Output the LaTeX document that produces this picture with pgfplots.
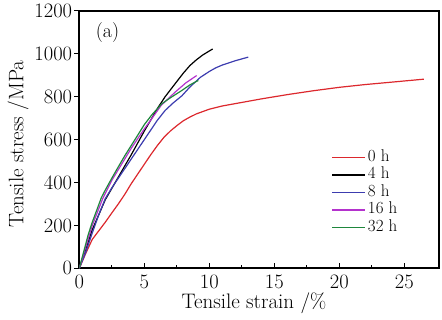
\documentclass[border=0pt]{standalone}
\usepackage{fontspec}
\usepackage{pgfplots}
\pgfplotsset{compat=1.18}
\definecolor{cRed}{RGB}{220,40,45}
\definecolor{cBlue}{RGB}{60,60,175}
\definecolor{cMag}{RGB}{180,50,205}
\definecolor{cGreen}{RGB}{30,135,60}
\begin{document}
\begin{tikzpicture}
\begin{axis}[
  scale only axis, width=359.7pt, height=257.3pt,
  xmin=0, xmax=27.67, ymin=0, ymax=1200,
  xtick={0,5,...,25}, ytick={0,200,...,1200},
  minor x tick num=1,
  xtick pos=bottom, ytick pos=left,
  tick align=inside, major tick length=5pt, minor tick length=3pt,
  y tick style={xshift=-5pt},
  every tick/.style={black, line width=1pt},
  axis line style={line width=1.6pt},
  /pgf/number format/assume math mode=true,
  /pgf/number format/1000 sep={},
  ticklabel style={font=\fontsize{20.5}{20.5}\selectfont},
  yticklabel style={inner sep=0pt, xshift=-7pt},
  xticklabel style={inner sep=0pt, yshift=-6pt},
  xlabel={Tensile strain /\%}, ylabel={Tensile stress /MPa},
  label style={font=\fontsize{21}{21}\selectfont},
  xlabel style={at={(axis description cs:0.4857,-0.137)}, anchor=center},
  ylabel style={at={(axis description cs:-0.1704,0.483)}, anchor=center},
  legend style={at={(axis cs:19.4,552)}, anchor=north west, draw=none, fill=none,
    font=\fontsize{17}{17}\selectfont, inner sep=0pt, row sep=2.5pt, column sep=2pt,
    nodes={inner sep=0pt, text height=11pt, text depth=4pt}},
  legend cell align=left,
  legend image code/.code={\draw[#1, line width=1.3pt] (0pt,0pt) -- (33pt,0pt);},
]
\addplot[cRed, line width=1.2pt] coordinates {(0,0)(0.5,70)(1,135)(1.5,175)(2,215)(2.5,258)(3,300)(3.5,345)(4,395)(4.5,440)(5,485)(5.5,530)(6,572)(6.5,610)(7,640)(7.5,665)(8,688)(8.5,705)(9,720)(10,742)(11,757)(12,768)(14,790)(16,810)(18,828)(20,844)(22,857)(24,868)(26.5,882)};
\addplot[black, line width=1.2pt] coordinates {(0,0)(0.5,90)(1,180)(2,320)(3,425)(4,530)(5,640)(6.08,752)(6.6,800)(7.36,860)(8,910)(8.5,945)(9,972)(9.5,995)(10.26,1023)};
\addplot[cBlue, line width=1.2pt] coordinates {(0,0)(0.5,75)(1,165)(1.5,250)(2,325)(2.5,375)(3,420)(3.5,465)(4,510)(4.5,555)(5,600)(5.5,645)(6,690)(6.6,736)(7.2,770)(7.9,805)(8.5,845)(9.3,890)(10,918)(10.5,935)(11,948)(12,968)(13,985)};
\addplot[cMag, line width=1.2pt] coordinates {(0,0)(0.5,100)(1,200)(1.8,325)(2.5,410)(3,460)(4,560)(5,650)(5.6,700)(6.3,760)(7.36,821)(8.2,865)(9.03,899)};
\addplot[cGreen, line width=1.2pt] coordinates {(0,0)(0.7,160)(1,215)(1.7,330)(2,365)(2.5,420)(3,473)(3.5,525)(4.28,600)(5,670)(5.57,715)(6.34,767)(7,795)(7.88,829)(8.5,855)(9.15,876)};
\legend{0 h, 4 h, 8 h, 16 h, 32 h}
\node[font=\fontsize{20}{20}\selectfont] at (axis cs:2.17,1101) {(a)};
\end{axis}
\pgfresetboundingbox
\useasboundingbox ([shift={(-79.3pt,-51.7pt)}]current axis.south west) rectangle ([shift={(3pt,11pt)}]current axis.north east);
\end{tikzpicture}
\end{document}
